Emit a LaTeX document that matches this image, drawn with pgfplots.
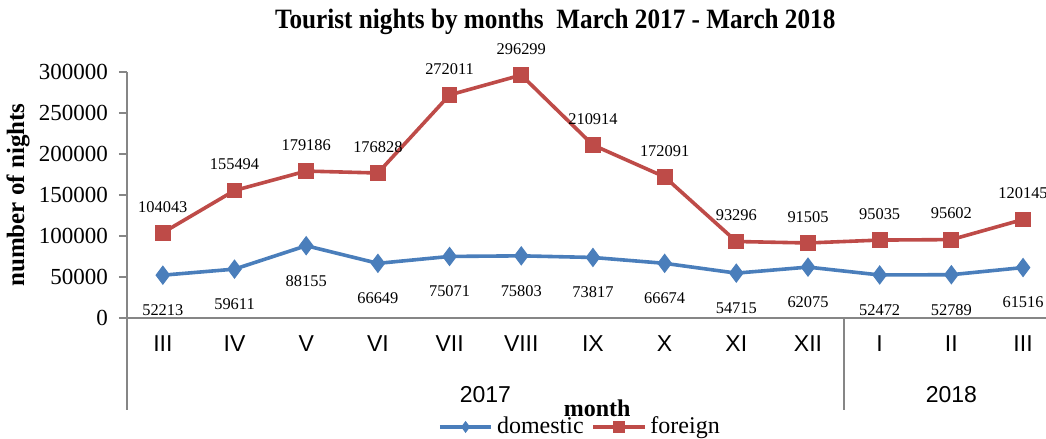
\documentclass[border=0pt]{standalone}
\usepackage{fontspec}
\setmainfont{Liberation Serif}
\setsansfont{Liberation Sans}
\usepackage{pgfplots}
\usepackage{pgfplotstable}
\pgfplotsset{compat=1.18}
\definecolor{dom}{HTML}{4A7EBB}
\definecolor{forc}{HTML}{BE4B48}
\definecolor{axgray}{HTML}{868686}

\pgfplotstableread{
x y
0 52213
1 59611
2 88155
3 66649
4 75071
5 75803
6 73817
7 66674
8 54715
9 62075
10 52472
11 52789
12 61516
}\domtable

\pgfplotstableread{
x y
0 104043
1 155494
2 179186
3 176828
4 272011
5 296299
6 210914
7 172091
8 93296
9 91505
10 95035
11 95602
12 120145
}\fortable

\begin{document}
\begin{tikzpicture}
\begin{axis}[
  scale only axis,
  width=459.5pt, height=123pt,
  xmin=-0.5, xmax=12.32,
  ymin=0, ymax=300000,
  clip=false,
  axis x line*=bottom,
  axis y line*=left,
  axis line style={axgray, line width=0.8pt, -},
  xtick={0,...,12},
  xticklabels={III,IV,V,VI,VII,VIII,IX,X,XI,XII,I,II,III},
  x tick style={draw=none},
  xticklabel style={font=\sffamily\fontsize{11.5}{13}\selectfont, anchor=center, yshift=-9pt},
  ytick={0,50000,...,300000},
  y tick style={axgray, line width=0.8pt},
  tick align=outside,
  major tick length=4pt,
  scaled y ticks=false,
  /pgf/number format/assume math mode=true,
  yticklabel={\pgfmathprintnumber[fixed,precision=0,set thousands separator={}]{\tick}},
  yticklabel style={font=\fontsize{11.5}{13}\selectfont, xshift=-2pt},
  ylabel={\textbf{number of nights}},
  ylabel style={font=\fontsize{12.5}{14}\selectfont, at={(axis description cs:-0.1186,0.5)}, anchor=center},
  legend columns=2,
  legend style={draw=none, fill=none, at={(axis description cs:0.494,-0.443)}, anchor=center,
    font=\fontsize{12}{13}\selectfont,
    /tikz/every even column/.append style={column sep=2pt}},
  legend image code/.code={\draw[mark repeat=2,mark phase=2,#1,mark size=2.6pt] plot coordinates {(0cm,0cm)(0.45cm,0cm)(0.9cm,0cm)};},
]
\addplot[color=dom, line width=1.8pt, mark=diamond*, mark size=4.5pt, mark options={fill=dom, line width=0.5pt},
  point meta=explicit symbolic, nodes near coords,
  every node near coord/.append style={anchor=center, yshift=-17.5pt, text=black, font=\fontsize{8.2}{10}\selectfont}]
  table[x=x, y=y, meta=y] {\domtable};
\addlegendentry{domestic}
\addplot[color=forc, line width=1.8pt, mark=square*, mark size=3.7pt, mark options={fill=forc, line width=0.5pt},
  point meta=explicit symbolic, nodes near coords,
  every node near coord/.append style={anchor=center, yshift=13pt, text=black, font=\fontsize{8.2}{10}\selectfont}]
  table[x=x, y=y, meta=y] {\fortable};
\addlegendentry{foreign}
\draw[axgray, line width=0.8pt] (axis cs:-0.5,0) -- ++(0pt,-46pt);
\draw[axgray, line width=0.8pt] (axis cs:9.5,0) -- ++(0pt,-46pt);
\node[font=\sffamily\fontsize{11.5}{13}\selectfont] at ([yshift=-38.5pt]axis cs:4.5,0) {2017};
\node[font=\sffamily\fontsize{11.5}{13}\selectfont] at ([yshift=-38.5pt]axis cs:11,0) {2018};
\node[font=\bfseries\fontsize{12}{13}\selectfont] at ([yshift=-45pt]axis cs:6.06,0) {month};
\node[font=\bfseries\fontsize{14}{16}\selectfont, anchor=center] at (axis description cs:0.466,1.203) {\scalebox{0.9}[1]{Tourist nights by months\ \ March 2017 - March 2018}};
\end{axis}
\pgfresetboundingbox
\path[use as bounding box] (-63.5pt,-60.5pt) rectangle (459.5pt,159pt);
\end{tikzpicture}
\end{document}
